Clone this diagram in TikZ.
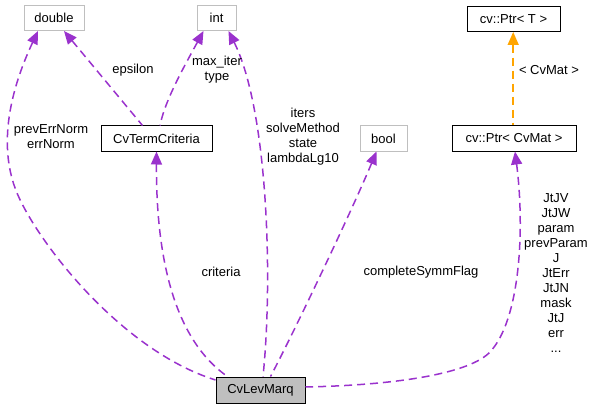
\documentclass[tikz,border=0pt]{standalone}
\usepackage{fontspec}
\setmainfont{Liberation Sans}
\usetikzlibrary{arrows.meta}
\definecolor{edgepurple}{HTML}{9A32CD}
\definecolor{edgeorange}{HTML}{FFA500}
\definecolor{boxgray}{HTML}{BFBFBF}
\begin{document}
\begin{tikzpicture}[x=1pt,y=-1pt,
  every node/.style={font=\fontsize{13}{15}\selectfont, inner sep=0pt},
  cls/.style={draw=black, line width=1pt, minimum height=25pt},
  ext/.style={draw=boxgray, line width=1pt, minimum height=25pt},
  lbl/.style={align=center},
  edge/.style={draw=edgepurple, line width=1.5pt, dash pattern=on 8pt off 5pt,
    {Triangle[length=13pt,width=11pt,fill=edgepurple]}-},
  tedge/.style={draw=edgeorange, line width=1.5pt, dash pattern=on 8pt off 5pt,
    {Triangle[length=13pt,width=11pt,fill=edgeorange]}-}
]
\useasboundingbox (0,0) rectangle (594,409);

\node[ext, minimum width=60pt] (dbl) at (54,18) {double};
\node[ext, minimum width=39pt] (int) at (216.5,18) {int};
\node[cls, minimum width=93pt] (ptrT) at (513.5,19) {cv::Ptr< T >};
\node[cls, minimum width=111pt] (term) at (156.5,138.5) {CvTermCriteria};
\node[ext, minimum width=47pt] (bool) at (383.5,138.5) {bool};
\node[cls, minimum width=124pt] (ptrM) at (514,138.5) {cv::Ptr< CvMat >};
\node[cls, fill=boxgray, minimum width=89pt, minimum height=26pt] (lev) at (260.5,390) {CvLevMarq};

\draw[edge] ([xshift=-16pt]dbl.south) .. controls (15,80) and (-5,140) .. (17,193)
  .. controls (37,241) and (120,350) .. ([yshift=10pt]lev.west);
\draw[edge] ([xshift=10pt]dbl.south) -- ([xshift=-14pt]term.north);
\draw[edge] ([xshift=-13pt]int.south) .. controls (185,65) and (165,100) .. ([xshift=3.5pt]term.north);
\draw[edge] (term.south) .. controls (156,260) and (175,340) .. ([xshift=-33pt]lev.north);
\draw[edge] ([xshift=12pt]int.south) .. controls (268,110) and (273,280) .. ([xshift=2.5pt]lev.north);
\draw[edge] ([xshift=-7pt]bool.south) .. controls (350,215) and (290,340) .. ([xshift=10pt]lev.north);
\draw[edge] ([xshift=1pt]ptrM.south) .. controls (525,230) and (520,320) .. (490,352)
  .. controls (470,373) and (400,385) .. ([yshift=3pt]lev.east);
\draw[tedge] ([xshift=-0.3pt]ptrT.south) -- ([xshift=-0.8pt]ptrM.north);

\node[lbl] (l1) at (51,137) {prevErrNorm\\errNorm};
\node (l2) at (133,70) {epsilon};
\node[lbl] (l3) at (217,70) {max\_iter\\type};
\node[lbl] (l4) at (303,137) {iters\\solveMethod\\state\\lambdaLg10};
\node (l5) at (221,272) {criteria};
\node (l6) at (421,272) {completeSymmFlag};
\node[lbl] (l7) at (556,273) {JtJV\\JtJW\\param\\prevParam\\J\\JtErr\\JtJN\\mask\\JtJ\\err\\...};
\node (l8) at (549,70) {< CvMat >};
\end{tikzpicture}
\end{document}
